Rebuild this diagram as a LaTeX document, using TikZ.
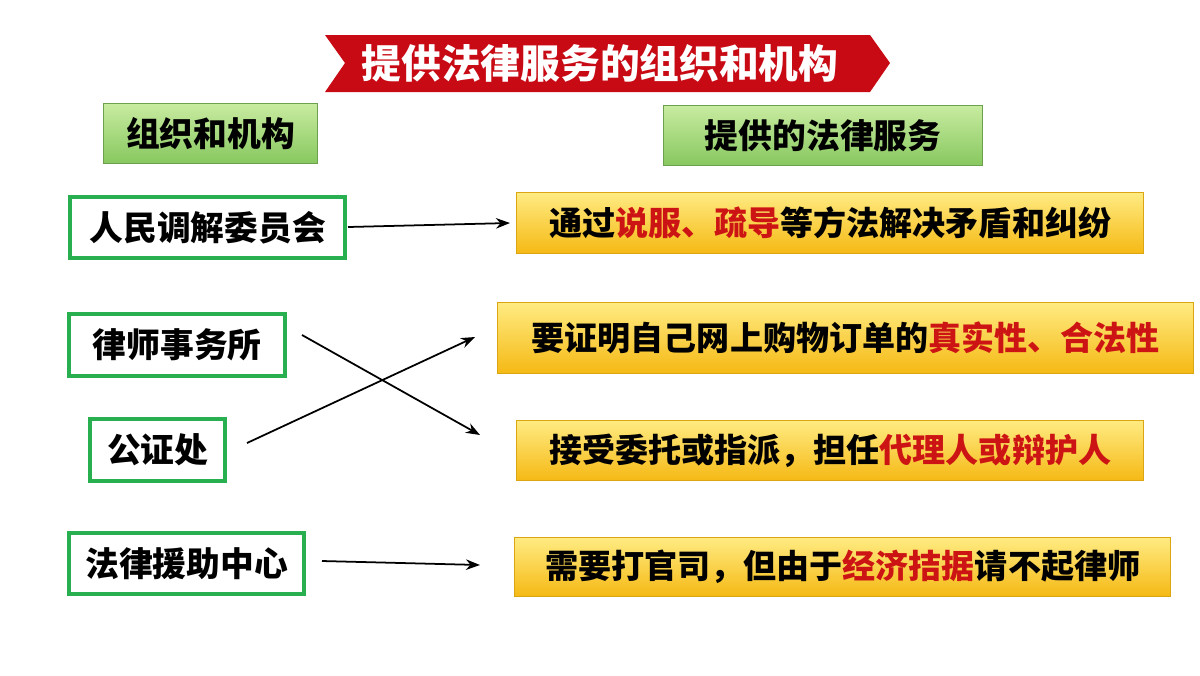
\documentclass[tikz,border=0pt]{standalone}
\usepackage{fontspec}
\newfontfamily\cjk{Noto Sans CJK SC}
\usetikzlibrary{arrows.meta}
\definecolor{bannerred}{RGB}{200,10,20}
\definecolor{hilite}{RGB}{205,20,20}
\definecolor{boxgreen}{RGB}{40,175,80}
\definecolor{hdtop}{RGB}{200,235,160}
\definecolor{hdbot}{RGB}{135,200,95}
\definecolor{svtop}{RGB}{255,235,130}
\definecolor{svbot}{RGB}{245,185,20}
\newcommand{\hl}[1]{\textcolor{hilite}{#1}}
\begin{document}
\begin{tikzpicture}[x=0.01cm,y=-0.01cm]
\tikzset{
  header/.style={draw=hdbot!80!black,line width=0.3pt,top color=hdtop,bottom color=hdbot,
    font=\cjk\bfseries\fontsize{9.6}{9.6}\selectfont,anchor=north west,inner sep=0pt},
  orgbox/.style={draw=boxgreen,line width=1.2pt,fill=white,
    font=\cjk\bfseries\fontsize{9.6}{9.6}\selectfont,anchor=north west,inner sep=0pt},
  servicebox/.style={draw=svbot!90!black,line width=0.3pt,top color=svtop,bottom color=svbot,
    font=\cjk\bfseries\fontsize{9.4}{9.4}\selectfont,anchor=north west,inner sep=0pt},
  link/.style={-{Stealth[length=4pt,width=3pt]},line width=0.5pt}
}
\useasboundingbox (0,0) rectangle (1200,675);
% title banner
\fill[bannerred] (325,35) -- (870,35) -- (890,63) -- (870,92) -- (325,92) -- (345,63) -- cycle;
\node[text=white,font=\cjk\bfseries\fontsize{11.3}{11.3}\selectfont] (title) at (600,63) {提供法律服务的组织和机构};
% column headers
\node[header,minimum width=2.14cm,minimum height=0.6cm] (orghead) at (103,103) {组织和机构};
\node[header,minimum width=3.19cm,minimum height=0.6cm] (svchead) at (663,105) {提供的法律服务};
% organisations
\node[orgbox,minimum width=2.75cm,minimum height=0.61cm] (tiaojie) at (68,195) {人民调解委员会};
\node[orgbox,minimum width=2.16cm,minimum height=0.62cm] (lvshi) at (67,312) {律师事务所};
\node[orgbox,minimum width=1.35cm,minimum height=0.62cm] (gongzheng) at (88,417) {公证处};
\node[orgbox,minimum width=2.35cm,minimum height=0.61cm] (yuanzhu) at (67,531) {法律援助中心};
% services
\node[servicebox,minimum width=6.27cm,minimum height=0.61cm] (svc1) at (516,192) {通过\hl{说服、疏导}等方法解决矛盾和纠纷};
\node[servicebox,minimum width=6.96cm,minimum height=0.71cm] (svc2) at (497,302) {要证明自己网上购物订单的\hl{真实性、合法性}};
\node[servicebox,minimum width=6.27cm,minimum height=0.6cm] (svc3) at (516,420) {接受委托或指派，担任\hl{代理人或辩护人}};
\node[servicebox,minimum width=6.56cm,minimum height=0.59cm] (svc4) at (514,537) {需要打官司，但由于\hl{经济拮据}请不起律师};
% connectors
\coordinate (a1s) at (348,227); \coordinate (a1e) at (510,223);
\coordinate (a2s) at (302,335); \coordinate (a2e) at (480,435);
\coordinate (a3s) at (247,443); \coordinate (a3e) at (475,337);
\coordinate (a4s) at (322,561); \coordinate (a4e) at (480,565);
\draw[link] (a1s) -- (a1e);
\draw[link] (a2s) -- (a2e);
\draw[link] (a3s) -- (a3e);
\draw[link] (a4s) -- (a4e);
\end{tikzpicture}
\end{document}
